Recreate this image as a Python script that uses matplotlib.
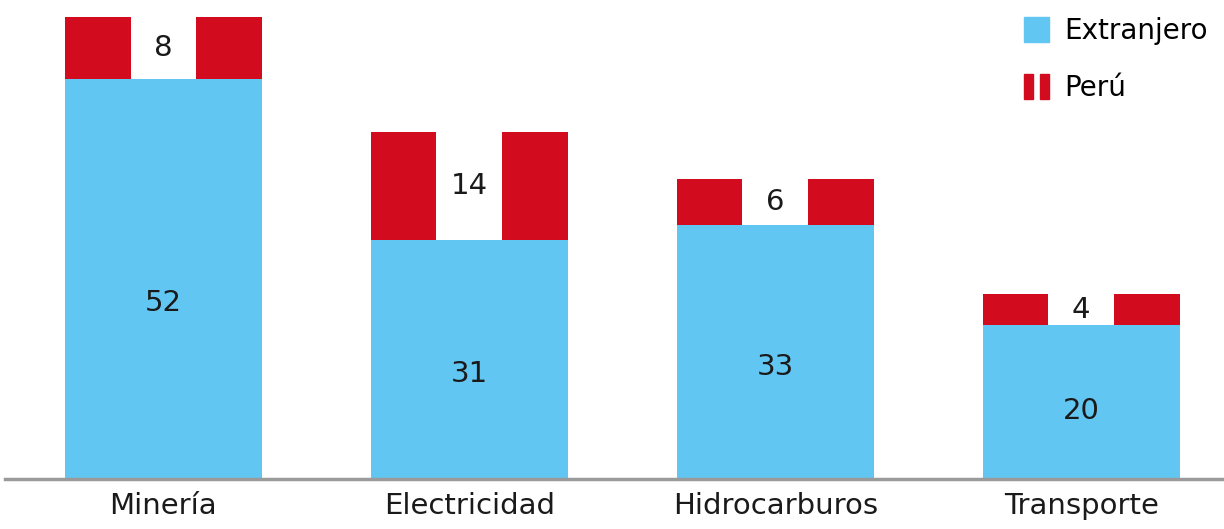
import matplotlib.pyplot as plt
from matplotlib.patches import Patch
from matplotlib.legend_handler import HandlerTuple

sectores = ["Minería", "Electricidad", "Hidrocarburos", "Transporte"]
extranjero = [52, 31, 33, 20]
peru = [8, 14, 6, 4]

azul = '#62C6F2'
rojo = '#D20B1F'

fig = plt.figure(figsize=(12.24, 5.29), dpi=100)
ax = fig.add_axes([0, 50 / 529, 1, 479 / 529])

x = list(range(len(sectores)))
w = 0.644

ax.bar(x, extranjero, width=w, color=azul, zorder=2)
ax.bar(x, peru, width=w, bottom=extranjero, color=rojo, zorder=2)
# white gap in the middle of the red section
ax.bar(x, peru, width=w / 3, bottom=extranjero, color='white', zorder=3)

for i in x:
    ax.text(i, extranjero[i] * 0.44, str(extranjero[i]), ha='center', va='center',
            fontsize=21, color='#1a1a1a', zorder=4)
    ax.text(i, extranjero[i] + peru[i] / 2, str(peru[i]), ha='center', va='center',
            fontsize=21, color='#1a1a1a', zorder=4)

ax.set_xlim(-0.534, 3.467)
ax.set_ylim(0, 62.2)
ax.axhline(0, xmin=0.004, xmax=1, color='#9a9a9a', lw=2.5, zorder=5, clip_on=False)

for s in ax.spines.values():
    s.set_visible(False)
ax.set_yticks([])
ax.set_xticks(x)
ax.set_xticklabels(sectores, fontsize=21, color='#1a1a1a')
ax.tick_params(axis='x', length=0, pad=9)

handles = [Patch(color=azul), (Patch(color=rojo), Patch(color=rojo))]
ax.legend(handles, ['Extranjero', 'Perú'], loc='upper right', bbox_to_anchor=(1.003, 1.005),
          frameon=False, fontsize=20, handlelength=0.9, handleheight=1.0,
          handletextpad=0.55, labelspacing=1.05, borderaxespad=0.3,
          handler_map={tuple: HandlerTuple(ndivide=None, pad=0.25)})

fig.savefig('out.png', dpi=100)
